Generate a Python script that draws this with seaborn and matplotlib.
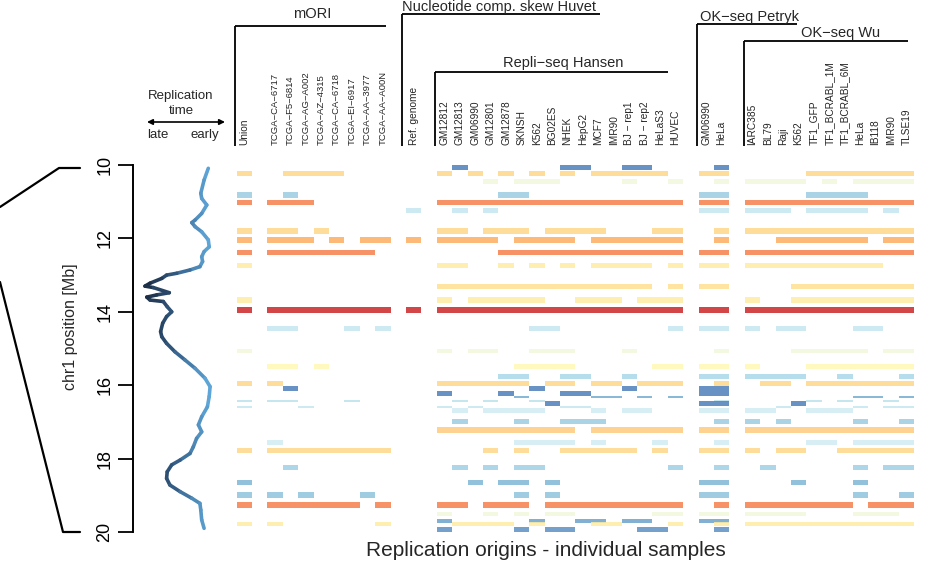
import numpy as np
import pandas as pd
import seaborn as sns
import matplotlib.pyplot as plt
import matplotlib.transforms as mtrans
from matplotlib.collections import LineCollection
from matplotlib.colors import LinearSegmentedColormap, Normalize

# replication timing profile, chr1 10-20 Mb (late < 0 < early)
rt_pos = [10.09, 10.41, 10.77, 10.91, 11.09, 11.32, 11.50, 11.57, 11.68, 11.82,
          12.04, 12.23, 12.36, 12.50, 12.63, 12.77, 12.86, 12.95, 13.00, 13.09,
          13.22, 13.30, 13.34, 13.48, 13.54, 13.60, 13.68, 13.72, 13.86, 14.00,
          14.13, 14.31, 14.54, 14.68, 14.86, 15.09, 15.31, 15.54, 15.81, 16.04,
          16.31, 16.59, 16.86, 17.08, 17.27, 17.45, 17.68, 17.86, 18.04, 18.17,
          18.36, 18.54, 18.72, 18.90, 19.08, 19.22, 19.40, 19.67, 19.90]
rt_value = [1.11, 0.97, 0.86, 0.89, 1.06, 0.89, 0.67, 0.56, 0.67, 0.89,
            1.11, 1.14, 0.97, 0.89, 0.92, 0.83, 0.50, 0.06, -0.28, -0.44,
            -0.83, -1.00, -0.72, -0.19, -0.61, -0.94, -0.83, -0.39, -0.26, -0.11,
            -0.28, -0.41, -0.48, -0.44, -0.28, 0.00, 0.33, 0.67, 1.00, 1.17,
            1.14, 1.08, 0.89, 0.78, 0.89, 0.72, 0.61, 0.50, 0.17, -0.11,
            -0.26, -0.28, -0.17, 0.17, 0.56, 0.83, 0.86, 0.89, 0.97]

group_names = ['mORI', 'Nucleotide comp. skew Huvet', 'Repli−seq Hansen',
               'OK−seq Petryk', 'OK−seq Wu']
mori_samples = ['Union', 'TCGA−CA−6717', 'TCGA−F5−6814', 'TCGA−AG−A002', 'TCGA−AZ−4315',
                'TCGA−CA−6718', 'TCGA−EI−6917', 'TCGA−AA−3977', 'TCGA−AA−A00N']
huvet_samples = ['Ref. genome']
hansen_samples = ['GM12812', 'GM12813', 'GM06990', 'GM12801', 'GM12878', 'SKNSH', 'K562',
                  'BG02ES', 'NHEK', 'HepG2', 'MCF7', 'IMR90', 'BJ − rep1', 'BJ − rep2',
                  'HeLaS3', 'HUVEC']
petryk_samples = ['GM06990', 'HeLa']
wu_samples = ['IARC385', 'BL79', 'Raji', 'K562', 'TF1_GFP', 'TF1_BCRABL_1M', 'TF1_BCRABL_6M',
              'HeLa', 'IB118', 'IMR90', 'TLSE19']

# origins: centre (Mb), thickness (Mb), colour level, hits per group (mORI|Huvet|Hansen|Petryk|Wu)
origin_pos = [10.05, 10.23, 10.44, 10.82, 11.02, 11.25, 11.80, 12.05, 12.39, 12.74,
              13.30, 13.68, 13.95, 14.45, 15.07, 15.50, 15.77, 15.95, 16.08, 16.22,
              16.33, 16.42, 16.49, 16.59, 16.69, 16.98, 17.22, 17.56, 17.78, 18.25,
              18.65, 18.99, 19.26, 19.51, 19.69, 19.78, 19.93]
origin_size = [0.15, 0.15, 0.13, 0.15, 0.15, 0.13, 0.15, 0.15, 0.15, 0.14,
               0.14, 0.14, 0.17, 0.14, 0.13, 0.13, 0.13, 0.15, 0.14, 0.14,
               0.05, 0.05, 0.14, 0.05, 0.13, 0.14, 0.15, 0.13, 0.15, 0.14,
               0.15, 0.15, 0.16, 0.13, 0.11, 0.10, 0.12]
origin_level = [0.12, 0.62, 0.45, 0.27, 0.77, 0.35, 0.62, 0.70, 0.77, 0.56,
                0.60, 0.56, 0.92, 0.35, 0.45, 0.52, 0.30, 0.62, 0.12, 0.12,
                0.20, 0.33, 0.12, 0.35, 0.37, 0.27, 0.64, 0.37, 0.62, 0.28,
                0.22, 0.25, 0.77, 0.45, 0.18, 0.56, 0.15]
origin_hits = [
    '000000000|0|0100000011001100|01|00000000000',
    '101111000|0|1010101010111110|11|00001111111',
    '000000000|0|0001011100001001|01|11110101111',
    '101000000|0|0000110000000000|11|00001111000',
    '111100000|0|1111111111111111|11|11111111111',
    '000000000|1|0101000000000000|11|11101111010',
    '111010000|0|1101110111100011|01|11111111111',
    '111101011|1|1111011110111111|01|00111111011',
    '111111110|0|0000111111111111|11|11111111111',
    '100000000|0|1100101010111101|11|11111111100',
    '000000000|0|1111111111111101|11|00011111111',
    '100000000|0|1011111001110111|00|10011111111',
    '111111111|1|1111111111111111|11|11111111111',
    '011000101|0|0000001100000001|11|10110001100',
    '100000000|0|1011001110001000|01|00011111011',
    '011010000|0|0000011110000011|11|10001111111',
    '000000000|0|0000110011001000|11|11110010001',
    '110000000|0|1111110110110111|01|01101111111',
    '001000000|0|0000001000001000|11|00000000000',
    '000000000|0|1000100011000000|11|00000000000',
    '000000000|0|0000010000110101|00|00000001101',
    '111000100|0|0101001000000000|01|00001010010',
    '000000000|0|0000000100000000|11|00010000000',
    '100100000|0|1010000011000000|00|00100001011',
    '000000000|0|0101111000101100|11|11001110000',
    '000000000|0|0100010011100000|01|10100001001',
    '000000000|0|1111111110111111|11|11111111111',
    '010000000|0|0000011110100010|01|00001101111',
    '111111111|0|0001010011111010|11|10110011111',
    '001000000|0|0101011000000001|01|01000001011',
    '100000000|0|0010110100000000|11|00010001000',
    '110100010|0|0000010100000000|11|00000001001',
    '111111101|0|1101110111111111|01|11111110111',
    '000000000|0|1001010110000011|11|11110001110',
    '000000000|0|1000001001101100|11|00000000000',
    '110000001|0|0111101000110001|01|11111111111',
    '000000000|0|1000010110000110|01|00000000000',
]

# ---- layout of sample columns ----
group_samples = [mori_samples, huvet_samples, hansen_samples, petryk_samples, wu_samples]
slots = []
s = 0
for samples in group_samples:
    g_slots = []
    for name in samples:
        g_slots.append(s)
        s += 2 if name == 'Union' else 1
    slots.append(g_slots)
    s += 1
n_slots = s - 1

cells = []
for pos, size, level, hits in zip(origin_pos, origin_size, origin_level, origin_hits):
    for g, flags in enumerate(hits.split('|')):
        for k, f in enumerate(flags):
            if f == '1':
                cells.append((pos, size, level, slots[g][k]))
cells = pd.DataFrame(cells, columns=['pos', 'size', 'level', 'slot'])

sns.set_style('white')
plt.rcParams['font.family'] = ['Liberation Sans', 'DejaVu Sans']

fig = plt.figure(figsize=(9.51, 5.70), dpi=100)
W, H = 951, 570
ax = fig.add_axes([236.5 / W, 38 / H, 677.6 / W, 367 / H])
ax_rt = fig.add_axes([133 / W, 38 / H, 92 / W, 367 / H])

# ---- origin heatmap ----
cmap = plt.get_cmap('RdYlBu_r')
ax.barh(cells['pos'], width=1, left=cells['slot'], height=cells['size'],
        color=[cmap(v, alpha=0.85) for v in cells['level']], linewidth=0)
ax.set_xlim(0, n_slots)
ax.set_ylim(20, 10)
ax.axis('off')

# ---- timing curve ----
pts = np.column_stack([rt_value, rt_pos])
segs = np.stack([pts[:-1], pts[1:]], axis=1)
curve_cmap = LinearSegmentedColormap.from_list('rt', ['#1a2a40', '#355f88', '#5ea6d8'])
lc = LineCollection(segs, cmap=curve_cmap, norm=Normalize(-1.0, 1.1),
                    linewidths=2.6, capstyle='round', joinstyle='round')
lc.set_array(0.5 * (np.array(rt_value[:-1]) + np.array(rt_value[1:])))
ax_rt.add_collection(lc)
ax_rt.set_xlim(-1.4, 1.667)
ax_rt.set_ylim(20, 10)
sns.despine(ax=ax_rt, top=True, right=True, bottom=True)
ax_rt.spines['left'].set_linewidth(1.4)
ax_rt.spines['left'].set_color('black')
ax_rt.set_xticks([])
ax_rt.set_yticks([10, 12, 14, 16, 18, 20])
ax_rt.tick_params(axis='y', left=True, length=11, width=1.3, labelsize=13, pad=3,
                  labelrotation=90, colors='black')
for lab in ax_rt.get_yticklabels():
    lab.set_va('center')
ax_rt.set_ylabel('chr1 position [Mb]', fontsize=11.5)
ax_rt.yaxis.set_label_coords(-0.60, 0.56)
ax_rt.patch.set_alpha(0)

# ---- header: sample labels and group brackets ----
tr = mtrans.blended_transform_factory(ax.transData, fig.transFigure)


def fy(px):
    return 1 - px / H


for g, samples in enumerate(group_samples):
    for k, name in enumerate(samples):
        fs = 6.8 if name.startswith('TCGA') else 7.3
        ax.text(slots[g][k] + 0.5, fy(145), name, transform=tr, rotation=90,
                ha='center', va='bottom', fontsize=fs)

# (x start, x end, line y px, text x, text y px, alignment)
brackets = [(-0.1, 9.7, 26, 4.9, 14, 'center'),
            (10.75, 23.6, 14, 10.75, 7, 'left'),
            (12.9, 28.0, 72, 21.2, 63, 'center'),
            (29.9, 36.4, 24, 30.1, 17, 'left'),
            (32.95, 43.6, 41, 39.25, 33, 'center')]
for (x0, x1, ly, tx, ty, ha), name in zip(brackets, group_names):
    ax.plot([x0, x1], [fy(ly), fy(ly)], transform=tr, color='black', lw=1.3,
            clip_on=False, solid_capstyle='butt')
    ax.plot([x0, x0], [fy(ly), fy(146)], transform=tr, color='black', lw=1.3,
            clip_on=False, solid_capstyle='butt')
    ax.text(tx, fy(ty), name, transform=tr, ha=ha, va='center', fontsize=10.5)

# ---- replication time legend ----
fig.text(181 / W, fy(96), 'Replication', ha='center', va='center', fontsize=9.5)
fig.text(181 / W, fy(111), 'time', ha='center', va='center', fontsize=9.5)
fig.text(158 / W, fy(135), 'late', ha='center', va='center', fontsize=9.5)
fig.text(205 / W, fy(135), 'early', ha='center', va='center', fontsize=9.5)
fig.add_artist(plt.Annotation('', xy=(225 / W, fy(122)), xytext=(147 / W, fy(122)),
                              xycoords='figure fraction', textcoords='figure fraction',
                              arrowprops=dict(arrowstyle='<|-|>', color='black', lw=1.2,
                                              mutation_scale=8, shrinkA=0, shrinkB=0)))

# ---- zoom lines towards the chromosome ideogram ----
fig.add_artist(plt.Line2D([0, 59 / W, 80 / W], [fy(207), fy(168), fy(168)],
                          color='black', lw=1.6))
fig.add_artist(plt.Line2D([0, 63 / W, 80 / W], [fy(282), fy(532), fy(532)],
                          color='black', lw=1.6))

fig.text(546 / W, fy(550), 'Replication origins - individual samples',
         ha='center', va='center', fontsize=15)

fig.savefig('out.png', dpi=100)
